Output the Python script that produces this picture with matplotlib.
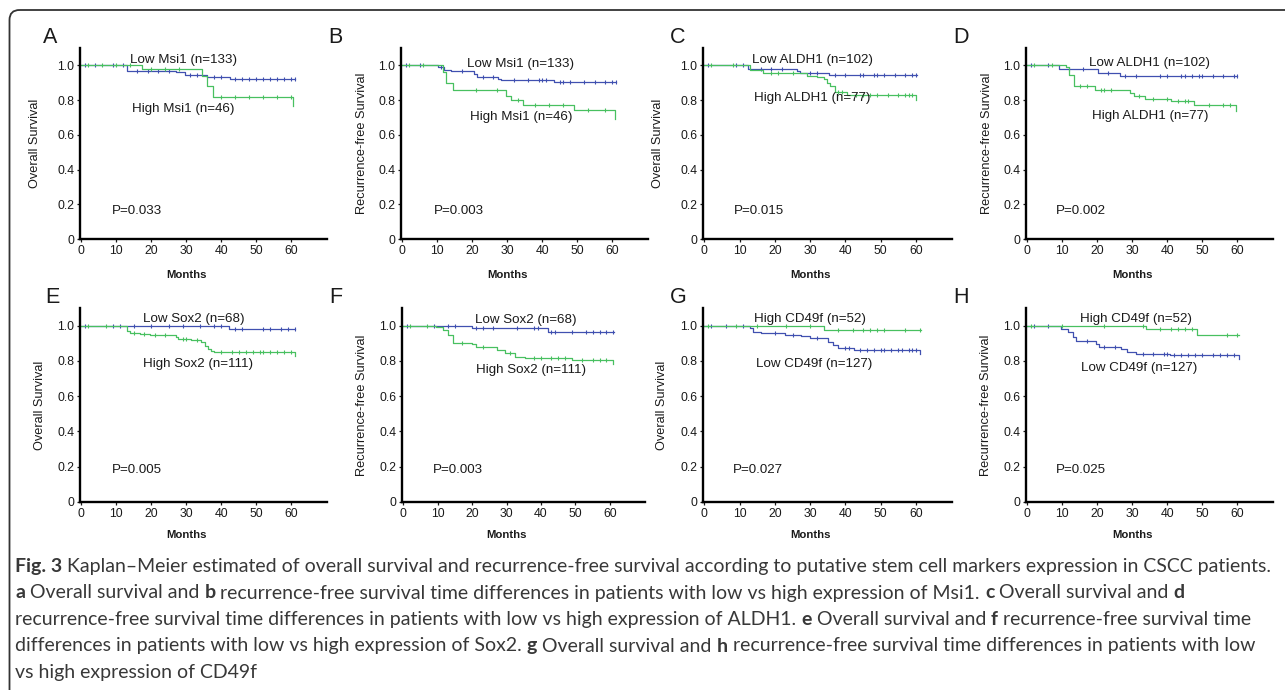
import matplotlib
matplotlib.use("Agg")
import matplotlib.pyplot as plt
import numpy as np
from matplotlib.patches import FancyBboxPatch

# ---------------- data ----------------
# Panel A: Overall survival, Msi1
A_low_t = [0, 13, 27, 29.7, 36, 42.6, 61]
A_low_s = [1.0, 0.969, 0.960, 0.942, 0.933, 0.923, 0.923]
A_high_t = [0, 17.3, 34.5, 36, 37.5, 60.5]
A_high_s = [1.0, 0.977, 0.937, 0.879, 0.816, 0.768]
A_low_c = [1, 4, 9, 12, 16, 19, 22, 25, 31, 33, 38, 40, 44, 46, 48, 50, 52, 54, 56, 58, 60, 61]
A_high_c = [2, 6, 10, 14, 20, 24, 28, 40, 44, 48, 52, 56, 60]

# Panel B: Recurrence-free survival, Msi1
B_low_t = [0, 10.1, 12, 13.9, 20.6, 21.3, 27.2, 28.2, 43.4, 61]
B_low_s = [1.0, 0.988, 0.975, 0.965, 0.952, 0.933, 0.921, 0.916, 0.906, 0.906]
B_high_t = [0, 11.5, 12.5, 14.4, 29.6, 31, 34.4, 49.1, 60.9]
B_high_s = [1.0, 0.96, 0.898, 0.856, 0.825, 0.802, 0.77, 0.741, 0.693]
B_low_c = [1, 5, 11, 17, 23, 26, 32, 36, 39, 40, 41, 45, 46, 48, 52, 55, 58, 60, 61]
B_high_c = [2, 6, 21, 27, 33, 38, 42, 46, 53, 58]

# Panel C: Overall survival, ALDH1
C_low_t = [0, 12.4, 26.2, 27, 35.2, 60.3]
C_low_s = [1.0, 0.981, 0.965, 0.958, 0.942, 0.942]
C_high_t = [0, 12.9, 16.7, 29, 31.9, 33.8, 34.8, 35.7, 37.1, 40.5, 60]
C_high_s = [1.0, 0.971, 0.958, 0.938, 0.933, 0.923, 0.90, 0.881, 0.846, 0.831, 0.798]
C_low_c = [1, 9, 11, 16, 19, 22, 30, 32, 37, 40, 44, 45, 48, 49, 51, 54, 57, 59, 60]
C_high_c = [2, 8, 19, 21, 25, 38, 39, 43, 45, 47, 49, 52, 55, 57, 58, 59]

# Panel D: Recurrence-free survival, ALDH1
D_low_t = [0, 9, 20.3, 26.5, 59.8]
D_low_s = [1.0, 0.981, 0.958, 0.938, 0.938]
D_high_t = [0, 10.9, 11.8, 13.2, 19.4, 29.3, 30.4, 33.6, 41.1, 47.7, 59.5]
D_high_s = [1.0, 0.99, 0.942, 0.881, 0.856, 0.84, 0.823, 0.808, 0.792, 0.773, 0.74]
D_low_c = [1, 6, 12, 16, 23, 28, 31, 38, 40, 44, 45, 47, 49, 50, 53, 56, 59, 60]
D_high_c = [2, 7, 15, 17, 21, 22, 24, 32, 36, 40, 43, 45, 46, 52, 56, 58]

# Panel E: Overall survival, Sox2
E_low_t = [0, 42.2, 61.1]
E_low_s = [1.0, 0.983, 0.983]
E_high_t = [0, 13, 13.9, 16.7, 19.6, 27.1, 27.6, 31.4, 34.2, 35.2, 36.1, 37, 38, 61]
E_high_s = [1.0, 0.968, 0.96, 0.955, 0.949, 0.936, 0.923, 0.917, 0.908, 0.883, 0.868, 0.855, 0.849, 0.827]
E_low_c = [1, 9, 11, 15, 20, 25, 29, 34, 38, 40, 44, 46, 52, 54, 57, 59, 61]
E_high_c = [2, 7, 15, 18, 21, 24, 29, 30, 33, 40, 43, 45, 47, 49, 51, 52, 54, 56, 58, 60]

# Panel F: Recurrence-free survival, Sox2
F_low_t = [0, 20, 41.9, 61.2]
F_low_s = [1.0, 0.985, 0.966, 0.966]
F_high_t = [0, 9.5, 11.4, 12.9, 14.3, 20, 21, 27.1, 29.5, 32.4, 35.2, 49, 61]
F_high_s = [1.0, 0.991, 0.975, 0.947, 0.904, 0.896, 0.877, 0.862, 0.847, 0.823, 0.819, 0.804, 0.785]
F_low_c = [1, 9, 13, 15, 21, 23, 26, 33, 38, 39, 43, 44, 49, 53, 55, 57, 59, 61]
F_high_c = [2, 7, 17, 23, 31, 38, 40, 43, 45, 47, 52, 55, 57, 59]

# Panel G: Overall survival, CD49f
G_high_t = [0, 34, 61.3]
G_high_s = [1.0, 0.975, 0.975]
G_low_t = [0, 12.8, 13.8, 16.1, 22.8, 27.5, 29.9, 35.1, 36.6, 38, 42.3, 61]
G_low_s = [1.0, 0.985, 0.966, 0.958, 0.949, 0.939, 0.928, 0.909, 0.89, 0.873, 0.863, 0.839]
G_high_c = [1, 9, 15, 23, 30, 38, 42, 45, 47, 49, 51, 57, 61]
G_low_c = [2, 6, 11, 20, 25, 32, 40, 41, 44, 46, 48, 50, 51, 53, 55, 56, 58, 59, 60]

# Panel H: Recurrence-free survival, CD49f
H_high_t = [0, 33.8, 48.4, 60.5]
H_high_s = [1.0, 0.979, 0.947, 0.947]
H_low_t = [0, 9.7, 11.6, 13, 14, 19.6, 20.6, 26.7, 28.6, 30.9, 40.8, 52.2, 60.5]
H_low_s = [1.0, 0.981, 0.962, 0.937, 0.915, 0.896, 0.88, 0.867, 0.852, 0.839, 0.835, 0.831, 0.81]
H_high_c = [1, 10, 22, 33, 38, 41, 43, 45, 47, 57, 60]
H_low_c = [2, 6, 17, 22, 25, 33, 36, 39, 40, 42, 44, 46, 48, 50, 53, 55, 57, 59]

panel_letters = ["A", "B", "C", "D", "E", "F", "G", "H"]
ylabels = ["Overall Survival", "Recurrence-free Survival"] * 4
p_values = ["P=0.033", "P=0.003", "P=0.015", "P=0.002",
            "P=0.005", "P=0.003", "P=0.027", "P=0.025"]
labels_top = ["Low Msi1 (n=133)", "Low Msi1 (n=133)", "Low ALDH1 (n=102)", "Low ALDH1 (n=102)",
              "Low Sox2 (n=68)", "Low Sox2 (n=68)", "High CD49f (n=52)", "High CD49f (n=52)"]
labels_bottom = ["High Msi1 (n=46)", "High Msi1 (n=46)", "High ALDH1 (n=77)", "High ALDH1 (n=77)",
                 "High Sox2 (n=111)", "High Sox2 (n=111)", "Low CD49f (n=127)", "Low CD49f (n=127)"]
x_ticks = [0, 10, 20, 30, 40, 50, 60]
y_ticks = [0, 0.2, 0.4, 0.6, 0.8, 1.0]
y_ticklabels = ["0", "0.2", "0.4", "0.6", "0.8", "1.0"]
xlabel = "Months"

curves = [
    [(A_low_t, A_low_s, A_low_c, "blue"), (A_high_t, A_high_s, A_high_c, "green")],
    [(B_low_t, B_low_s, B_low_c, "blue"), (B_high_t, B_high_s, B_high_c, "green")],
    [(C_low_t, C_low_s, C_low_c, "blue"), (C_high_t, C_high_s, C_high_c, "green")],
    [(D_low_t, D_low_s, D_low_c, "blue"), (D_high_t, D_high_s, D_high_c, "green")],
    [(E_low_t, E_low_s, E_low_c, "blue"), (E_high_t, E_high_s, E_high_c, "green")],
    [(F_low_t, F_low_s, F_low_c, "blue"), (F_high_t, F_high_s, F_high_c, "green")],
    [(G_low_t, G_low_s, G_low_c, "blue"), (G_high_t, G_high_s, G_high_c, "green")],
    [(H_low_t, H_low_s, H_low_c, "blue"), (H_high_t, H_high_s, H_high_c, "green")],
]

caption_lines = [
    [("Fig. 3", True), (" Kaplan\u2013Meier estimated of overall survival and recurrence-free survival according to putative stem cell markers expression in CSCC patients.", False)],
    [("a", True), (" Overall survival and ", False), ("b", True),
     (" recurrence-free survival time differences in patients with low vs high expression of Msi1. ", False),
     ("c", True), (" Overall survival and ", False), ("d", True)],
    [("recurrence-free survival time differences in patients with low vs high expression of ALDH1. ", False),
     ("e", True), (" Overall survival and ", False), ("f", True), (" recurrence-free survival time", False)],
    [("differences in patients with low vs high expression of Sox2. ", False), ("g", True),
     (" Overall survival and ", False), ("h", True),
     (" recurrence-free survival time differences in patients with low", False)],
    [("vs high expression of CD49f", False)],
]

# ---------------- layout / style ----------------
W, H = 1285, 690
COL = {"blue": "#4050b0", "green": "#48c060"}
TXT = "#1a1a1a"
CHART_FONT = ["Liberation Sans", "Arial", "DejaVu Sans"]
plt.rcParams["font.family"] = CHART_FONT

# per panel: axis left px, right px, top px, bottom px, letter x, letter baseline y, ylabel x
layout = [
    (80, 327, 48, 239, 43, 43, 35),
    (401, 648, 48, 239, 328, 43, 362),
    (703, 952, 48, 239, 670, 43, 658),
    (1026, 1273, 48, 239, 953, 43, 987),
    (80, 327, 308, 502, 45, 303, 40),
    (402, 645, 308, 502, 329, 303, 362),
    (703, 952, 308, 502, 670, 303, 662),
    (1026, 1273, 308, 502, 953, 303, 986),
]
# annotation positions (months, survival)
ann_top = [(14, 1.03), (18.5, 1.01), (13.5, 1.03), (17.5, 1.015),
           (17.6, 1.04), (20.8, 1.03), (14, 1.04), (14.9, 1.04)]
ann_bot = [(14.5, 0.75), (19.4, 0.70), (14, 0.81), (18.4, 0.71),
           (17.6, 0.78), (21.2, 0.75), (14.6, 0.78), (15.3, 0.76)]
ann_p = [(8.8, 0.164), (8.9, 0.164), (8.3, 0.164), (8.1, 0.164),
         (8.6, 0.18), (8.6, 0.18), (8.1, 0.18), (8.1, 0.18)]

fig = plt.figure(figsize=(W / 100, H / 100), dpi=100)
fig.patch.set_facecolor("white")

# frame
bg = fig.add_axes([0, 0, 1, 1], zorder=-5)
bg.set_xlim(0, W)
bg.set_ylim(H, 0)
bg.axis("off")
bg.add_patch(FancyBboxPatch((9.5, 10), 1400, 800, boxstyle="round,pad=0,rounding_size=10",
                            fill=False, lw=1.3, ec="#333333"))

XMIN, XMAX = -0.4, 70.2

for i in range(8):
    l, r, t, b, lx, ly, ylx = layout[i]
    ax = fig.add_axes([l / W, 1 - b / H, (r - l) / W, (b - t) / H])
    ax.set_xlim(XMIN, XMAX)
    ax.set_ylim(0, 1.1)
    for sp in ["top", "right"]:
        ax.spines[sp].set_visible(False)
    for sp in ["left", "bottom"]:
        ax.spines[sp].set_linewidth(1.7)
        ax.spines[sp].set_color("black")
    ax.set_xticks(x_ticks)
    ax.set_xticklabels([str(v) for v in x_ticks])
    ax.set_yticks(y_ticks)
    ax.set_yticklabels(y_ticklabels)
    ax.tick_params(axis="both", direction="out", length=2.5, width=0.9, labelsize=8.8,
                   colors=TXT, pad=1.5)
    ax.patch.set_alpha(0)

    for (tt, ss, cc, cname) in curves[i]:
        ax.step(tt, ss, where="post", color=COL[cname], lw=0.9)
        tt_a = np.asarray(tt)
        ss_a = np.asarray(ss)
        idx = np.searchsorted(tt_a, np.asarray(cc), side="right") - 1
        ax.plot(cc, ss_a[idx], ls="none", marker="|", ms=2.6, mew=0.8, color=COL[cname])

    ax.text(ann_top[i][0], ann_top[i][1], labels_top[i], ha="left", va="center",
            fontsize=9.6, color=TXT)
    ax.text(ann_bot[i][0], ann_bot[i][1], labels_bottom[i], ha="left", va="center",
            fontsize=9.6, color=TXT)
    ax.text(ann_p[i][0], ann_p[i][1], p_values[i], ha="left", va="center",
            fontsize=9.6, color=TXT)

    # letter, y label, months
    fig.text(lx / W, 1 - ly / H, panel_letters[i], fontsize=15.5, ha="left", va="baseline", color=TXT)
    fig.text(ylx / W, 1 - ((t + b) / 2) / H, ylabels[i], rotation=90, ha="center", va="center",
             fontsize=9.2, color=TXT)
    # Months centered at 30 months
    xc = l + (30 - XMIN) / (XMAX - XMIN) * (r - l)
    my = 275 if b < 300 else 535
    fig.text(xc / W, 1 - my / H, xlabel, ha="center", va="center", fontsize=8.2,
             fontweight="bold", color=TXT)

# caption
cap_family = ["Lato", "Open Sans", "DejaVu Sans"]
renderer = fig.canvas.get_renderer()
# size the caption so the first line spans the reference width
probe = fig.text(0, 0, "".join(s for s, _ in caption_lines[0]), fontsize=10, family=cap_family)
w10 = probe.get_window_extent(renderer).width
probe.remove()
cap_size = 10 * 1255 / w10

baselines = [572, 598.5, 625, 651.5, 678]
for line, by in zip(caption_lines, baselines):
    x = 15
    for seg, bold in line:
        tx = fig.text(x / W, 1 - by / H, seg, fontsize=cap_size, family=cap_family,
                      fontweight="bold" if bold else "normal", ha="left", va="baseline",
                      color="#383838")
        x += tx.get_window_extent(renderer).width

fig.savefig("out.png", dpi=100, facecolor="white")
